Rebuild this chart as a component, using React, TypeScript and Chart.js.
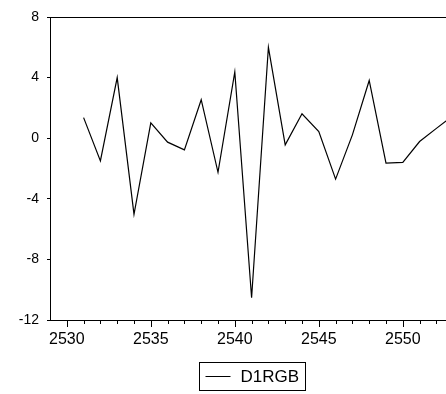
import React, { useEffect, useRef } from "react";
import { Chart, registerables } from "chart.js";

Chart.register(...registerables);

const years = [2531, 2532, 2533, 2534, 2535, 2536, 2537, 2538, 2539, 2540, 2541, 2542, 2543, 2544, 2545, 2546, 2547, 2548, 2549, 2550, 2551, 2552, 2553];
const d1rgb = [1.36, -1.5, 4.0, -5.03, 1.01, -0.26, -0.77, 2.54, -2.25, 4.37, -10.53, 6.0, -0.44, 1.61, 0.44, -2.7, 0.22, 3.81, -1.64, -1.59, -0.22, 0.65, 1.5];
const seriesLabel = "D1RGB";
const xMin = 2529;
const xMax = 2554;
const yMin = -12;
const yMax = 8;
const majorEvery = 5;
const minorEvery = 1;

const FONT = "'Liberation Sans', Arial, sans-serif";

const framePlugin = {
  id: "frameAndLegend",
  afterDraw(chart: any) {
    const { ctx, chartArea } = chart;
    const xs = chart.scales.x;
    ctx.save();
    ctx.strokeStyle = "#000";
    ctx.lineWidth = 1;
    // top / right frame
    ctx.beginPath();
    ctx.moveTo(Math.round(chartArea.left), Math.round(chartArea.top) + 0.5);
    ctx.lineTo(Math.round(chartArea.right) + 0.5, Math.round(chartArea.top) + 0.5);
    ctx.lineTo(Math.round(chartArea.right) + 0.5, Math.round(chartArea.bottom) + 0.5);
    ctx.stroke();
    // x ticks: minor 4px, major 7px
    const b = Math.round(chartArea.bottom);
    ctx.beginPath();
    for (let v = Math.floor(xs.min) + minorEvery; v <= xs.max; v += minorEvery) {
      const px = Math.round(xs.getPixelForValue(v)) + 0.5;
      const len = v % majorEvery === 0 ? 7 : 4;
      ctx.moveTo(px, b);
      ctx.lineTo(px, b + len);
    }
    ctx.stroke();
    // legend
    const label = chart.data.datasets[0].label;
    ctx.font = `17px ${FONT}`;
    const tw = ctx.measureText(label).width;
    const boxH = 28;
    const lineLen = 25;
    const gap = 10;
    const padL = 6;
    const padR = 6;
    const boxW = padL + lineLen + gap + tw + padR;
    const bx = 199.5;
    const by = 362.5;
    ctx.strokeRect(bx, by, Math.round(boxW), boxH);
    const ly = by + boxH / 2;
    ctx.beginPath();
    ctx.moveTo(bx + padL, Math.floor(ly) + 0.5);
    ctx.lineTo(bx + padL + lineLen, Math.floor(ly) + 0.5);
    ctx.stroke();
    ctx.fillStyle = "#000";
    ctx.textBaseline = "middle";
    ctx.textAlign = "left";
    ctx.fillText(label, bx + padL + lineLen + gap, ly + 1);
    ctx.restore();
  },
};

export default function App() {
  const ref = useRef<HTMLCanvasElement>(null);
  useEffect(() => {
    if (!ref.current) return;
    const chart = new Chart(ref.current, {
      type: "line",
      data: {
        datasets: [
          {
            label: seriesLabel,
            data: years.map((x, i) => ({ x, y: d1rgb[i] })),
            borderColor: "#000",
            borderWidth: 1.2,
            pointRadius: 0,
            tension: 0,
          },
        ],
      },
      options: {
        animation: false,
        responsive: false,
        maintainAspectRatio: false,
        layout: { padding: { top: 17, left: 0, right: 10, bottom: 0 } },
        plugins: { legend: { display: false }, tooltip: { enabled: false } },
        scales: {
          x: {
            type: "linear",
            position: "bottom",
            min: xMin,
            max: xMax,
            afterBuildTicks: (s: any) => {
              const out: any[] = [];
              for (let v = Math.ceil(s.min / majorEvery) * majorEvery; v <= s.max; v += majorEvery) out.push({ value: v });
              s.ticks = out;
            },
            ticks: {
              stepSize: majorEvery,
              autoSkip: false,
              color: "#000",
              font: { family: FONT, size: 16 },
              padding: 6,
              maxRotation: 0,
              callback: (v: any) => String(v),
            },
            grid: { drawOnChartArea: false, tickLength: 4, color: "rgba(0,0,0,0)", lineWidth: 1 },
            border: { display: true, color: "#000", width: 1 },
            afterFit: (s: any) => { s.height = 74; },
          },
          y: {
            type: "linear",
            min: yMin,
            max: yMax,
            ticks: {
              stepSize: 4,
              color: "#000",
              font: { family: FONT, size: 14 },
              padding: 8,
            },
            grid: { drawOnChartArea: false, tickLength: 3, color: "#000", lineWidth: 1 },
            border: { display: true, color: "#000", width: 1 },
            afterFit: (s: any) => { s.width = 50; },
          },
        },
      },
      plugins: [framePlugin],
    });
    return () => chart.destroy();
  }, []);
  return (
    <div style={{ position: "fixed", left: 0, top: 0, width: 446, height: 394, overflow: "hidden", background: "#fff" }}>
      <canvas ref={ref} width={480} height={394} style={{ display: "block", width: 480, height: 394 }} />
    </div>
  );
}
